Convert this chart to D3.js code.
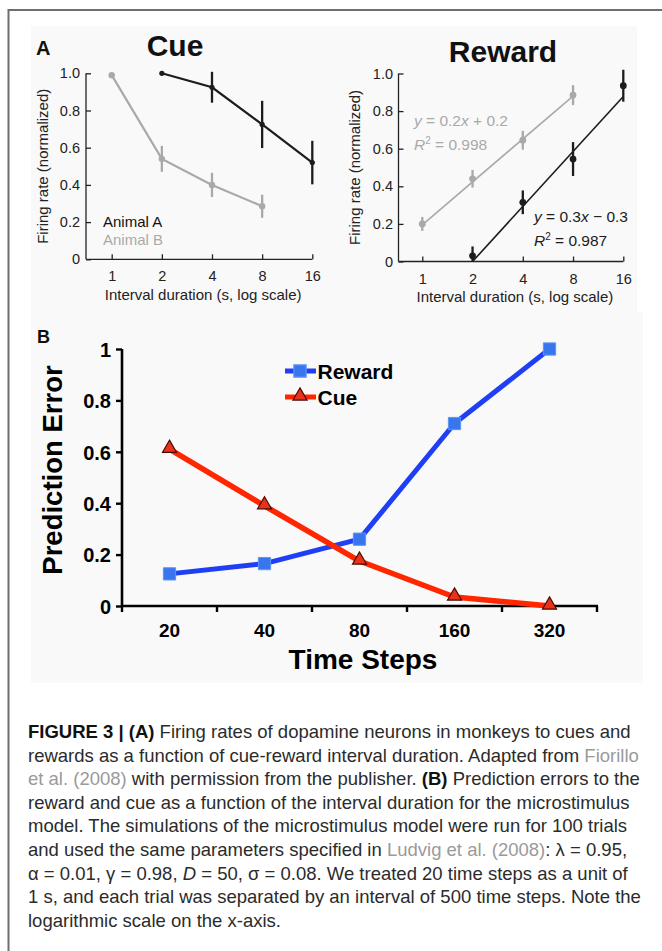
<!DOCTYPE html>
<html><head><meta charset="utf-8">
<script src="https://cdn.jsdelivr.net/npm/d3@7"></script>
<style>
body{margin:0;background:#fff}
svg{display:block}
text{font-family:"Liberation Sans",Arial,Helvetica,sans-serif}
</style>
</head><body>
<svg id="c" width="662" height="951"></svg>
<script>
// ---------- DATA ----------
const durationTicks = [1, 2, 4, 8, 16];
const rateTicks = [0, 0.2, 0.4, 0.6, 0.8, 1.0];

// Panel A, Cue
const cueA_x = [2, 4, 8, 16];
const cueA_y = [1.0, 0.925, 0.725, 0.52];
const cueA_err = [0, 0.083, 0.127, 0.117];
const cueB_x = [1, 2, 4, 8];
const cueB_y = [0.99, 0.54, 0.40, 0.285];
const cueB_err = [0, 0.07, 0.065, 0.062];

// Panel A, Reward
const rewA_x = [2, 4, 8, 16];
const rewA_y = [0.03, 0.315, 0.545, 0.935];
const rewA_err = [0.05, 0.063, 0.09, 0.085];
const rewB_x = [1, 2, 4, 8];
const rewB_y = [0.20, 0.44, 0.645, 0.885];
const rewB_err = [0.037, 0.047, 0.05, 0.053];
const rewA_fit_x = [2, 16];
const rewA_fit_y = [0.0, 0.878];
const rewB_fit_x = [1, 8];
const rewB_fit_y = [0.195, 0.88];

// Panel B
const timeSteps = ["20", "40", "80", "160", "320"];
const peTicks = [0, 0.2, 0.4, 0.6, 0.8, 1];
const peReward = [0.125, 0.165, 0.26, 0.71, 1.0];
const peCue = [0.61, 0.39, 0.175, 0.035, 0.0];

// ---------- DRAW ----------
const svg = d3.select("#c");
const zip = (xs, ys, es) => xs.map((x, i) => ({x, y: ys[i], e: es ? es[i] : 0}));

// page frame
svg.append("line").attr("x1", 8).attr("x2", 662).attr("y1", 10).attr("y2", 10)
  .attr("stroke", "#6e6e6e").attr("stroke-width", 2);
svg.append("line").attr("x1", 8.5).attr("x2", 8.5).attr("y1", 9).attr("y2", 951)
  .attr("stroke", "#6e6e6e").attr("stroke-width", 2);

// figure backgrounds
svg.append("rect").attr("x", 31).attr("y", 26).attr("width", 606).attr("height", 286).attr("fill", "#f9f9f9");
svg.append("rect").attr("x", 31).attr("y", 312).attr("width", 612).attr("height", 371).attr("fill", "#f9f9f9");

const BLACK = "#1c1c1c", GRAY = "#a9a9a9";

function panelA(cfg) {
  const g = svg.append("g");
  const x = d3.scaleLog().base(2).domain([1, 16]).range(cfg.xr);
  const y = d3.scaleLinear().domain([0, 1]).range(cfg.yr);

  const xa = g.append("g").attr("transform", `translate(0,${y(0)})`)
    .call(d3.axisBottom(x).tickValues(durationTicks).tickFormat(d3.format("d"))
      .tickSizeInner(-5).tickSizeOuter(0).tickPadding(cfg.xPad));
  xa.select(".domain").remove();
  const ya = g.append("g").attr("transform", `translate(${cfg.left},0)`)
    .call(d3.axisLeft(y).tickValues(rateTicks).tickFormat(d => d === 0 ? "0" : d.toFixed(1))
      .tickSizeInner(-5).tickSizeOuter(0).tickPadding(cfg.yPad));
  ya.select(".domain").remove();
  [xa, ya].forEach(a => {
    a.selectAll("line").attr("stroke", "#222").attr("stroke-width", 1.3);
    a.selectAll("text").attr("font-size", 14.5).attr("fill", "#222");
  });
  g.append("line").attr("x1", cfg.left).attr("x2", x(16)).attr("y1", y(0)).attr("y2", y(0))
    .attr("stroke", "#222").attr("stroke-width", 1.3);
  g.append("line").attr("x1", cfg.left).attr("x2", cfg.left).attr("y1", y(0)).attr("y2", y(1))
    .attr("stroke", "#222").attr("stroke-width", 1.3);

  g.append("text").attr("x", (cfg.left + x(16)) / 2 + 4).attr("y", cfg.xLabY)
    .attr("text-anchor", "middle").attr("font-size", 15).attr("fill", "#222")
    .text("Interval duration (s, log scale)");
  g.append("text").attr("transform", `translate(${cfg.yLabX},${(y(0) + y(1)) / 2}) rotate(-90)`)
    .attr("text-anchor", "middle").attr("font-size", 15).attr("fill", "#222")
    .text("Firing rate (normalized)");
  g.append("text").attr("x", cfg.titleX).attr("y", cfg.titleY).attr("text-anchor", "middle")
    .attr("font-size", 30).attr("font-weight", "bold").attr("fill", "#111").text(cfg.title);

  const line = d3.line().x(d => x(d.x)).y(d => y(d.y));
  cfg.series.forEach(s => {
    if (s.fit) {
      g.append("path").datum(s.fit).attr("d", line).attr("fill", "none")
        .attr("stroke", s.color).attr("stroke-width", 1.6);
    } else {
      g.append("path").datum(s.data).attr("d", line).attr("fill", "none")
        .attr("stroke", s.color).attr("stroke-width", 2.2);
    }
    g.selectAll(null).data(s.data.filter(d => d.e > 0)).join("line")
      .attr("x1", d => x(d.x)).attr("x2", d => x(d.x))
      .attr("y1", d => y(Math.max(0, d.y - d.e))).attr("y2", d => y(d.y + d.e))
      .attr("stroke", s.color).attr("stroke-width", 2.3);
    g.selectAll(null).data(s.data).join("circle")
      .attr("cx", d => x(d.x)).attr("cy", d => y(d.y)).attr("r", s.r).attr("fill", s.color);
  });
  return {g, x, y};
}

// Cue panel
const cue = panelA({
  left: 86, xr: [111.7, 312.3], yr: [259.3, 73.3], xPad: 11, yPad: 6,
  xLabY: 300, yLabX: 48, title: "Cue", titleX: 175, titleY: 55.5,
  series: [
    {data: zip(cueB_x, cueB_y, cueB_err), color: GRAY, r: 3.2},
    {data: zip(cueA_x, cueA_y, cueA_err), color: BLACK, r: 2.6}
  ]
});
cue.g.append("text").attr("x", 103).attr("y", 227).attr("font-size", 15).attr("fill", "#111").text("Animal A");
cue.g.append("text").attr("x", 103).attr("y", 244.5).attr("font-size", 15).attr("fill", GRAY).text("Animal B");

// Reward panel
const rew = panelA({
  left: 398.5, xr: [422.3, 623.3], yr: [261.5, 73.5], xPad: 12, yPad: 5.5,
  xLabY: 302, yLabX: 360, title: "Reward", titleX: 503, titleY: 62,
  series: [
    {data: zip(rewB_x, rewB_y, rewB_err), fit: zip(rewB_fit_x, rewB_fit_y), color: GRAY, r: 3.4},
    {data: zip(rewA_x, rewA_y, rewA_err), fit: zip(rewA_fit_x, rewA_fit_y), color: BLACK, r: 3.4}
  ]
});
function eqn(g, x0, y0, color, rows) {
  const t1 = g.append("text").attr("x", x0).attr("y", y0).attr("font-size", 15.5).attr("fill", color);
  rows[0].forEach(([s, it]) => t1.append("tspan").attr("font-style", it ? "italic" : null).text(s));
  const t2 = g.append("text").attr("x", x0).attr("y", y0 + 24).attr("font-size", 15.5).attr("fill", color);
  t2.append("tspan").attr("font-style", "italic").text("R");
  t2.append("tspan").attr("font-size", 10).attr("dy", -6).text("2");
  t2.append("tspan").attr("dy", 6).text(rows[1]);
}
eqn(rew.g, 414, 126, GRAY, [[["y", 1], [" = 0.2", 0], ["x", 1], [" + 0.2", 0]], " = 0.998"]);
eqn(rew.g, 534, 222, BLACK, [[["y", 1], [" = 0.3", 0], ["x", 1], [" \u2212 0.3", 0]], " = 0.987"]);

// panel letters
svg.append("text").attr("x", 36).attr("y", 55).attr("font-size", 20).attr("font-weight", "bold").attr("fill", "#111").text("A");
svg.append("text").attr("x", 37).attr("y", 342.5).attr("font-size", 18).attr("font-weight", "bold").attr("fill", "#111").text("B");

// ---------- Panel B ----------
(function () {
  const g = svg.append("g");
  const x = d3.scaleBand().domain(timeSteps).range([122, 597]).paddingInner(0).paddingOuter(0);
  const y = d3.scaleLinear().domain([0, 1]).range([606, 349]);
  const cx = d => x(d) + x.bandwidth() / 2;

  const ya = g.append("g").attr("transform", "translate(122,0)")
    .call(d3.axisLeft(y).tickValues(peTicks).tickFormat(d3.format("~g")).tickSizeInner(6).tickSizeOuter(0).tickPadding(5));
  ya.select(".domain").remove();
  ya.selectAll("line").attr("stroke", "#000").attr("stroke-width", 2.4);
  ya.selectAll("text").attr("font-size", 20).attr("font-weight", "bold").attr("fill", "#000").attr("dy", "0.36em");
  g.append("line").attr("x1", 122).attr("x2", 122).attr("y1", y(0)).attr("y2", y(1))
    .attr("stroke", "#000").attr("stroke-width", 2.6);

  const xa = g.append("g").attr("transform", `translate(0,${y(0)})`)
    .call(d3.axisBottom(x).tickSize(0).tickPadding(18));
  xa.select(".domain").remove();
  xa.selectAll("text").attr("font-size", 19).attr("font-weight", "bold").attr("fill", "#000");
  const bounds = timeSteps.map(d => x(d)).concat([x.range()[1]]);
  g.selectAll(null).data(bounds).join("line")
    .attr("x1", d => d).attr("x2", d => d).attr("y1", y(0)).attr("y2", y(0) + 6)
    .attr("stroke", "#000").attr("stroke-width", 2.4);
  g.append("line").attr("x1", 121).attr("x2", x.range()[1] + 1).attr("y1", y(0)).attr("y2", y(0))
    .attr("stroke", "#000").attr("stroke-width", 2.6);

  g.append("text").attr("x", 363).attr("y", 669).attr("text-anchor", "middle")
    .attr("font-size", 28).attr("font-weight", "bold").attr("fill", "#000").text("Time Steps");
  g.append("text").attr("transform", `translate(62,470) rotate(-90)`)
    .attr("text-anchor", "middle").attr("font-size", 27.5).attr("font-weight", "bold").attr("fill", "#000")
    .text("Prediction Error");

  const line = d3.line().x(d => cx(d.t)).y(d => y(d.v));
  const rData = timeSteps.map((t, i) => ({t, v: peReward[i]}));
  const cData = timeSteps.map((t, i) => ({t, v: peCue[i]}));
  const BLUE = "#1f3ff5", RED = "#ff2600";

  g.append("path").datum(rData).attr("d", line).attr("fill", "none").attr("stroke", BLUE)
    .attr("stroke-width", 5).attr("stroke-linejoin", "round");
  const sq = d3.symbol().type(d3.symbolSquare).size(150);
  g.selectAll(null).data(rData).join("path").attr("d", sq)
    .attr("transform", d => `translate(${cx(d.t)},${y(d.v)})`)
    .attr("fill", "#3875ee").attr("stroke", "#5d95f4").attr("stroke-width", 1);

  g.append("path").datum(cData).attr("d", line).attr("fill", "none").attr("stroke", RED)
    .attr("stroke-width", 5.5).attr("stroke-linejoin", "round");
  const tri = d3.symbol().type(d3.symbolTriangle).size(85);
  g.selectAll(null).data(cData).join("path").attr("d", tri)
    .attr("transform", d => `translate(${cx(d.t)},${y(d.v) - 1})`)
    .attr("fill", "#e8331a").attr("stroke", "#4a0800").attr("stroke-width", 1.2);

  const lg = g.append("g");
  const legendItems = [
    {label: "Reward", color: BLUE, sym: "sq", yy: 371},
    {label: "Cue", color: RED, sym: "tri", yy: 397}
  ];
  legendItems.forEach(it => {
    lg.append("line").attr("x1", 285).attr("x2", 316).attr("y1", it.yy).attr("y2", it.yy)
      .attr("stroke", it.color).attr("stroke-width", 5);
    lg.append("path").attr("d", it.sym === "sq" ? sq : tri)
      .attr("transform", `translate(300,${it.yy - (it.sym === "sq" ? 0 : 1)})`)
      .attr("fill", it.sym === "sq" ? "#3875ee" : "#e8331a")
      .attr("stroke", it.sym === "sq" ? "#5d95f4" : "#4a0800").attr("stroke-width", 1.2);
    lg.append("text").attr("x", 317.5).attr("y", it.yy + 7.5).attr("font-size", 21)
      .attr("font-weight", "bold").attr("fill", "#000").text(it.label);
  });
})();

// ---------- Caption ----------
const captionLines = [
  [["FIGURE 3 | (A)", "b"], [" Firing rates of dopamine neurons in monkeys to cues and", ""]],
  [["rewards as a function of cue-reward interval duration. Adapted from ", ""], ["Fiorillo", "l"]],
  [["et al. (2008)", "l"], [" with permission from the publisher. ", ""], ["(B)", "b"], [" Prediction errors to the", ""]],
  [["reward and cue as a function of the interval duration for the microstimulus", ""]],
  [["model. The simulations of the microstimulus model were run for 100 trials", ""]],
  [["and used the same parameters specified in ", ""], ["Ludvig et al. (2008)", "l"], [": \u03bb = 0.95,", ""]],
  [["\u03b1 = 0.01, \u03b3 = 0.98, ", ""], ["D", "i"], [" = 50, \u03c3 = 0.08. We treated 20 time steps as a unit of", ""]],
  [["1 s, and each trial was separated by an interval of 500 time steps. Note the", ""]],
  [["logarithmic scale on the x-axis.", ""]]
];
const cap = svg.append("g");
const texts = captionLines.map((segs, i) => {
  const t = cap.append("text").attr("x", 28).attr("y", 738 + i * 23.6).attr("font-size", 17).attr("fill", "#2b2b2b");
  segs.forEach(([s, st]) => {
    const ts = t.append("tspan").text(s);
    if (st === "b") ts.attr("font-weight", "bold").attr("fill", "#111");
    if (st === "l") ts.attr("fill", "#9a9a9a");
    if (st === "i") ts.attr("font-style", "italic");
  });
  return t;
});
const w8 = texts[7].node().getComputedTextLength();
const fs = 17 * 613 / w8;
texts.forEach(t => t.attr("font-size", fs));
</script>
</body></html>
